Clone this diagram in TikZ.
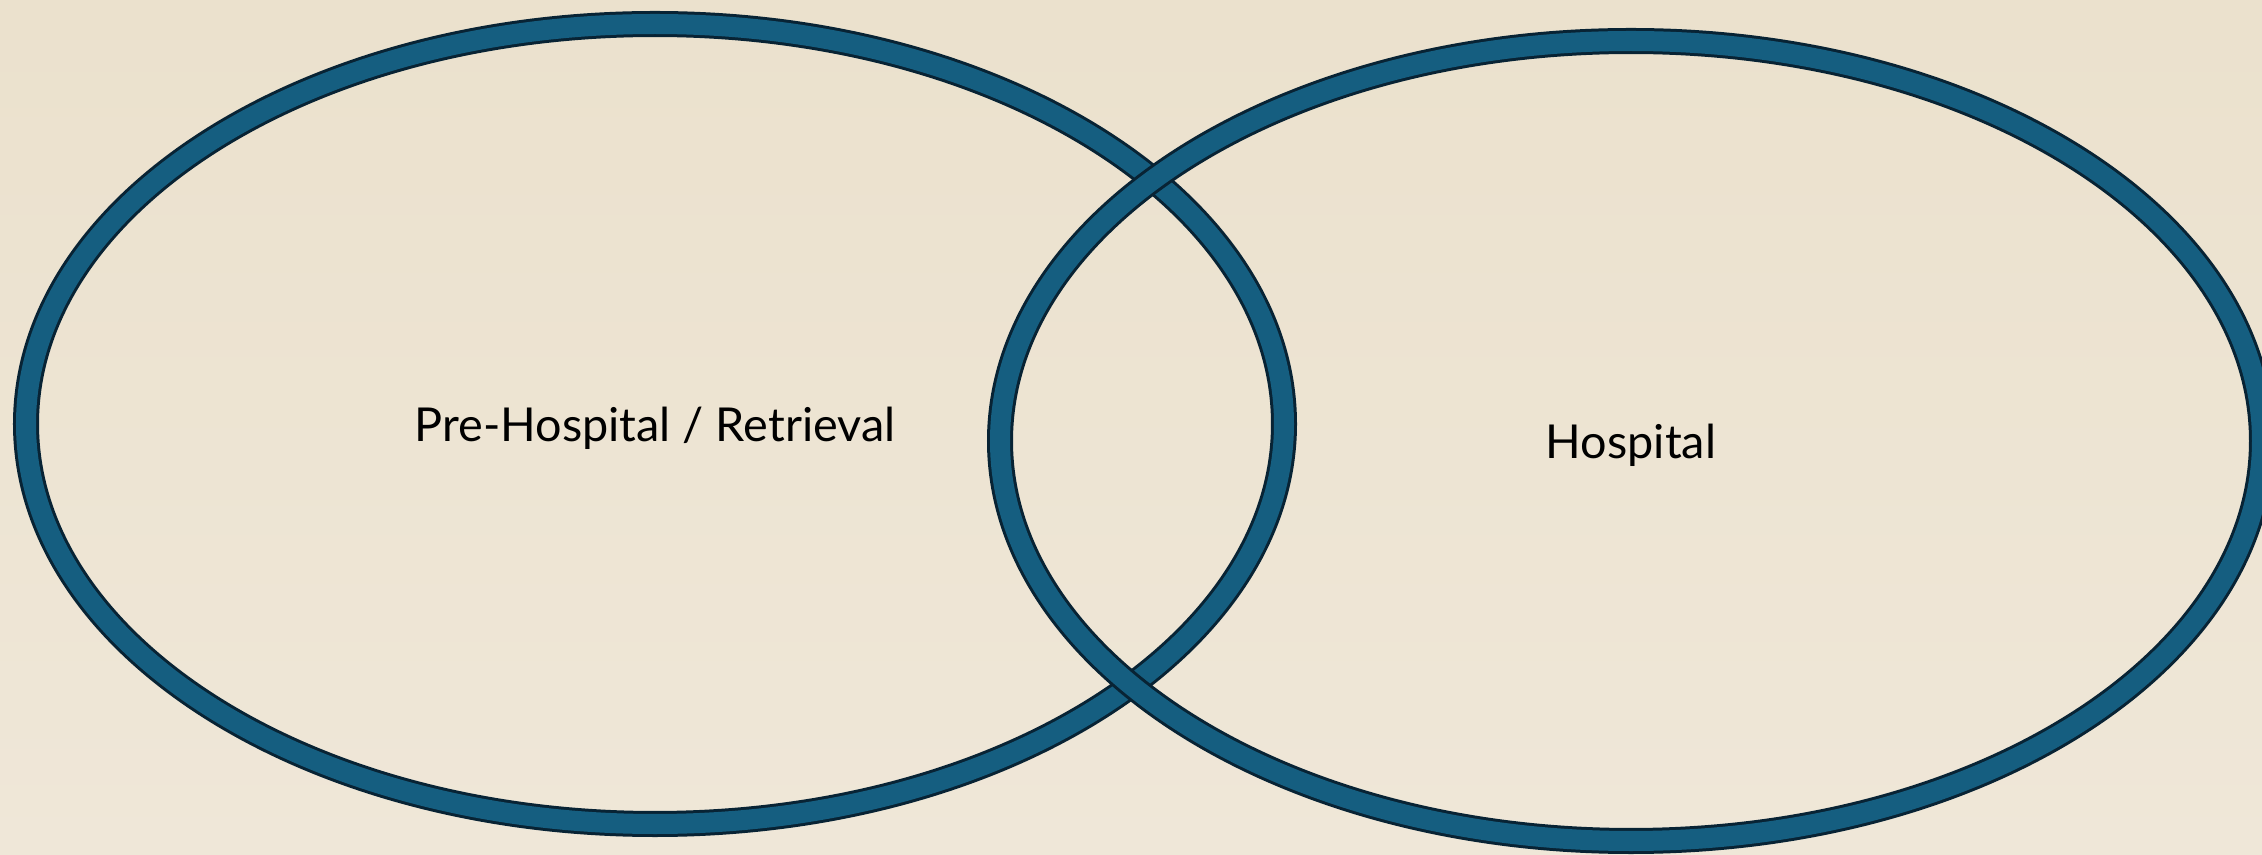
\documentclass[tikz,border=0pt]{standalone}
\usepackage{fontspec}
\setmainfont{Lato}
\definecolor{bgtop}{RGB}{235,225,205}
\definecolor{bgbot}{RGB}{239,231,216}
\definecolor{ringblue}{RGB}{21,94,128}
\definecolor{ringdark}{RGB}{8,35,52}
\begin{document}
\begin{tikzpicture}[x=0.01cm,y=-0.01cm,
  ringout/.style={draw=ringdark,line width=0.26cm},
  ringin/.style={draw=ringblue,line width=0.20cm},
  lbl/.style={font=\fontsize{13.3}{16}\selectfont,text=black,inner sep=0pt}]
\useasboundingbox (0,0) rectangle (2262,855);
\shade[top color=bgtop,bottom color=bgbot] (0,0) rectangle (2262,855);
\coordinate (lc) at (655,424);
\coordinate (rc) at (1631,441);
% left ellipse
\draw[ringout] (lc) ellipse [x radius=629,y radius=400];
\draw[ringin] (lc) ellipse [x radius=629,y radius=400];
% right ellipse
\draw[ringout] (rc) ellipse [x radius=631,y radius=400];
\draw[ringin] (rc) ellipse [x radius=631,y radius=400];
\node[lbl] (pre) at (655,428) {Pre-Hospital / Retrieval};
\node[lbl] (hosp) at (1631,445) {Hospital};
\end{tikzpicture}
\end{document}
